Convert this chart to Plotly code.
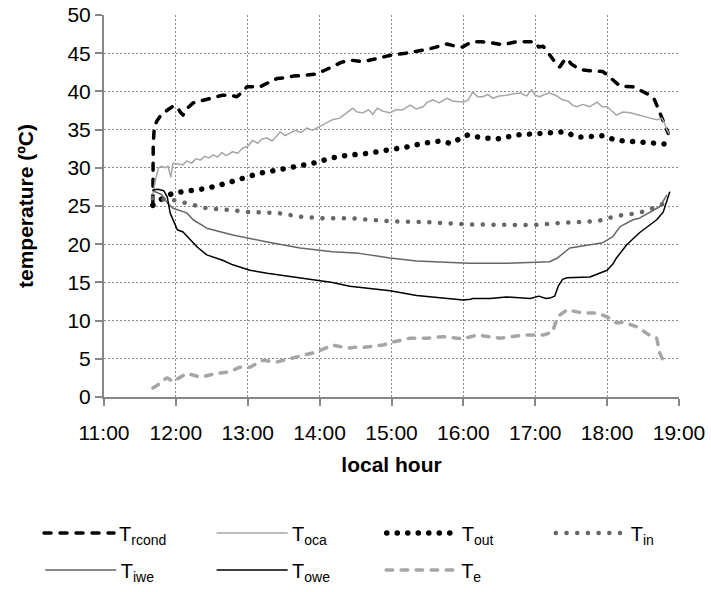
import plotly.graph_objects as go

# ---- data (time in decimal hours, temperature in ºC) ----
tick_vals = [11, 12, 13, 14, 15, 16, 17, 18, 19]
tick_text = ["11:00", "12:00", "13:00", "14:00", "15:00", "16:00", "17:00", "18:00", "19:00"]

t_rcond = [11.68, 11.685, 11.70, 11.74, 11.80, 11.88, 11.95, 12.02, 12.06, 12.10, 12.16, 12.24, 12.32, 12.43,
           12.55, 12.65, 12.75, 12.85, 12.93, 12.99, 13.08, 13.17, 13.30, 13.41, 13.52, 13.63, 13.80, 13.96,
           14.08, 14.18, 14.30, 14.42, 14.60, 14.75, 14.88, 15.02, 15.20, 15.35, 15.50, 15.58, 15.77, 15.90,
           15.99, 16.06, 16.13, 16.25, 16.37, 16.55, 16.65, 16.74, 16.88, 16.99, 17.05, 17.11, 17.20, 17.30,
           17.34, 17.40, 17.44, 17.50, 17.58, 17.66, 17.76, 17.94, 18.02, 18.08, 18.18, 18.36, 18.50, 18.60,
           18.66, 18.72, 18.76, 18.83, 18.85]
v_rcond = [25.5, 33.0, 35.4, 36.2, 37.0, 37.6, 38.0, 38.0, 37.3, 36.9, 37.8, 38.5, 38.7, 38.9,
           39.3, 39.5, 39.5, 39.3, 40.0, 40.6, 40.6, 40.6, 41.2, 41.7, 41.8, 42.0, 42.1, 42.3,
           42.8, 43.2, 43.8, 44.1, 43.9, 44.2, 44.5, 44.8, 45.0, 45.2, 45.5, 45.7, 46.2, 45.9,
           45.8, 46.2, 46.5, 46.5, 46.4, 46.1, 46.3, 46.5, 46.5, 46.5, 45.8, 45.9, 44.8, 43.5,
           43.2, 44.0, 44.3, 43.6, 43.1, 42.8, 42.7, 42.6, 42.0, 41.5, 40.7, 40.6, 40.0, 39.5,
           38.9, 37.5, 36.5, 35.0, 34.5]

t_oca = [11.68, 11.72, 11.76, 11.80, 11.85, 11.89, 11.91, 11.93, 11.96, 12.02, 12.10, 12.15, 12.22, 12.28,
         12.34, 12.40, 12.46, 12.52, 12.58, 12.64, 12.70, 12.79, 12.86, 12.93, 13.00, 13.07, 13.14, 13.20,
         13.27, 13.34, 13.40, 13.45, 13.52, 13.59, 13.66, 13.74, 13.82, 13.90, 14.00, 14.08, 14.18, 14.28,
         14.38, 14.46, 14.52, 14.60, 14.68, 14.74, 14.80, 14.88, 14.98, 15.06, 15.16, 15.26, 15.34, 15.44,
         15.50, 15.58, 15.66, 15.77, 15.86, 15.94, 15.99, 16.06, 16.13, 16.20, 16.27, 16.34, 16.41, 16.50,
         16.60, 16.70, 16.79, 16.88, 16.95, 17.00, 17.06, 17.13, 17.20, 17.28, 17.38, 17.46, 17.52, 17.58,
         17.66, 17.76, 17.86, 17.93, 18.00, 18.07, 18.13, 18.22, 18.32, 18.40, 18.50, 18.60, 18.69, 18.76,
         18.80, 18.83, 18.86]
v_oca = [26.5, 28.6, 30.0, 30.2, 30.0, 30.2, 29.5, 28.8, 30.6, 30.5, 30.4, 30.9, 30.6, 31.2,
         31.0, 31.5, 31.3, 31.7, 31.4, 32.0, 31.6, 32.1, 31.9, 32.6, 32.8, 33.6, 33.2, 33.8,
         33.9, 33.5, 34.2, 34.7, 34.2, 34.5, 34.9, 34.6, 35.2, 34.9, 35.4, 35.8, 36.3, 36.5,
         37.2, 37.8, 37.3, 37.2, 37.6, 37.0, 37.8, 37.4, 37.2, 37.6, 37.6, 38.2, 37.7, 38.0,
         38.6, 38.9, 38.5, 39.1, 38.7, 38.6, 38.6, 38.8, 39.9, 39.3, 39.3, 39.6, 39.1, 39.4,
         39.5, 39.7, 39.8, 39.4, 40.2, 39.5, 39.3, 39.6, 39.8, 39.5, 38.9, 38.7, 38.2, 38.0,
         38.3, 38.0, 38.6, 38.0, 38.0, 37.4, 36.9, 37.3, 37.2, 37.0, 36.7, 36.5, 36.3, 36.5,
         35.8, 35.0, 34.5]

t_out = [11.68, 11.78, 11.96, 12.20, 12.43, 12.71, 12.93, 13.17, 13.41, 13.63, 13.91, 14.18, 14.42, 14.60,
         14.88, 15.20, 15.44, 15.68, 15.82, 16.06, 16.27, 16.50, 16.74, 17.02, 17.11, 17.40, 17.60, 17.94,
         18.13, 18.40, 18.69, 18.83]
v_out = [25.1, 25.8, 26.7, 27.1, 27.3, 28.0, 28.6, 29.3, 29.7, 30.1, 30.6, 31.3, 31.7, 31.8,
         32.2, 32.7, 33.2, 33.5, 33.2, 34.3, 33.9, 33.8, 34.3, 34.5, 34.5, 34.7, 34.0, 34.2,
         33.6, 33.4, 33.2, 33.1]

t_in = [11.68, 11.96, 12.13, 12.43, 12.71, 13.03, 13.41, 13.73, 14.00, 14.42, 14.98, 15.44, 16.05, 16.51,
        16.97, 17.38, 17.86, 18.13, 18.45, 18.69, 18.85]
v_in = [26.0, 25.8, 25.4, 24.7, 24.5, 24.2, 24.1, 23.6, 23.4, 23.4, 23.0, 22.9, 22.6, 22.5,
        22.5, 22.8, 23.0, 23.7, 24.1, 24.9, 25.6]

t_iwe = [11.68, 11.80, 11.88, 11.96, 12.15, 12.24, 12.43, 12.79, 13.27, 13.73, 14.18, 14.55, 14.98, 15.35,
         16.08, 16.60, 17.20, 17.31, 17.48, 17.70, 17.94, 18.08, 18.18, 18.36, 18.45, 18.73, 18.83]
v_iwe = [27.0, 26.5, 25.4, 24.7, 24.1, 23.2, 22.1, 21.2, 20.3, 19.5, 19.0, 18.8, 18.2, 17.8,
         17.5, 17.5, 17.7, 18.2, 19.5, 19.8, 20.2, 21.0, 22.3, 23.2, 23.4, 24.9, 26.4]

t_owe = [11.68, 11.75, 11.83, 11.88, 11.92, 11.96, 12.02, 12.10, 12.18, 12.30, 12.43, 12.65, 12.79, 13.03,
         13.27, 13.73, 14.18, 14.42, 14.98, 15.35, 15.75, 16.00, 16.10, 16.13, 16.37, 16.60, 16.93, 17.05,
         17.15, 17.22, 17.27, 17.32, 17.38, 17.44, 17.76, 17.88, 18.00, 18.08, 18.13, 18.27, 18.45, 18.69,
         18.78, 18.87]
v_owe = [27.1, 27.2, 27.0, 26.2, 24.1, 23.2, 21.9, 21.6, 20.8, 19.6, 18.6, 17.9, 17.3, 16.6,
         16.2, 15.6, 15.0, 14.5, 13.9, 13.3, 12.9, 12.7, 12.8, 12.9, 12.9, 13.1, 12.9, 13.2,
         12.9, 13.0, 13.2, 14.5, 15.4, 15.6, 15.7, 16.2, 16.6, 17.4, 18.2, 19.9, 21.5, 23.2,
         24.2, 26.8]

t_e = [11.68, 11.74, 11.82, 11.88, 11.96, 12.15, 12.34, 12.57, 12.75, 12.89, 13.03, 13.21, 13.41, 13.63,
       13.77, 13.96, 14.18, 14.38, 14.50, 14.60, 14.88, 15.02, 15.26, 15.49, 15.72, 15.99, 16.19, 16.51,
       16.83, 17.11, 17.24, 17.31, 17.44, 17.66, 17.86, 18.00, 18.13, 18.22, 18.41, 18.59, 18.69, 18.73,
       18.78, 18.83]
v_e = [1.2, 1.5, 2.2, 2.5, 2.0, 3.1, 2.6, 3.1, 3.3, 3.9, 3.9, 4.8, 4.6, 5.1,
       5.5, 5.9, 6.8, 6.4, 6.5, 6.5, 6.8, 7.2, 7.7, 7.7, 7.9, 7.6, 8.1, 7.7,
       8.1, 8.1, 8.5, 10.5, 11.4, 11.0, 11.0, 10.5, 9.7, 9.8, 9.2, 8.1, 7.7, 5.8,
       4.8, 4.5]

FONT = "Liberation Sans, Arial, sans-serif"

fig = go.Figure()

def add(t, v, name, color, width, dash, legend):
    fig.add_trace(go.Scatter(x=t, y=v, mode="lines", name=name, legend=legend, showlegend=True,
                             line=dict(color=color, width=width, dash=dash)))

add(t_rcond, v_rcond, "T<sub>rcond</sub>", "#000000", 3.5, "7px,9px", "legend")
add(t_oca, v_oca, "T<sub>oca</sub>", "#a6a6a6", 1.5, "solid", "legend2")
add(t_out, v_out, "T<sub>out</sub>", "#000000", 5.5, "0.1px,10.4px", "legend3")
add(t_in, v_in, "T<sub>in</sub>", "#666666", 4.5, "0.1px,10.6px", "legend4")
add(t_iwe, v_iwe, "T<sub>iwe</sub>", "#666666", 1.5, "solid", "legend5")
add(t_owe, v_owe, "T<sub>owe</sub>", "#000000", 1.5, "solid", "legend6")
add(t_e, v_e, "T<sub>e</sub>", "#a6a6a6", 3.5, "6.5px,8.5px", "legend7")

leg_common = dict(orientation="h", xanchor="left", yanchor="middle", itemwidth=70,
                  font=dict(family=FONT, size=20, color="#000000"),
                  bgcolor="rgba(0,0,0,0)")

row1, row2 = -0.356, -0.453
fig.update_layout(
    width=711, height=592,
    showlegend=True,
    margin=dict(l=104, r=32, t=15, b=195, autoexpand=False),
    paper_bgcolor="white", plot_bgcolor="white",
    font=dict(family=FONT, size=21, color="#000000"),
    legend=dict(x=-0.113, y=row1, **leg_common),
    legend2=dict(x=0.188, y=row1, **leg_common),
    legend3=dict(x=0.483, y=row1, **leg_common),
    legend4=dict(x=0.777, y=row1, **leg_common),
    legend5=dict(x=-0.110, y=row2, **leg_common),
    legend6=dict(x=0.188, y=row2, **leg_common),
    legend7=dict(x=0.482, y=row2, **leg_common),
    xaxis=dict(range=[11, 19], tickmode="array", tickvals=tick_vals, ticktext=tick_text,
               showgrid=True, gridcolor="#8c8c8c", griddash="2px,2px", gridwidth=1,
               showline=True, linecolor="#868686", linewidth=2,
               ticks="outside", ticklen=7, tickcolor="#868686", tickwidth=2,
               ticklabelstandoff=9, zeroline=False,
               tickfont=dict(family=FONT, size=21),
               title=dict(text="<b>local hour</b>", font=dict(family=FONT, size=21), standoff=14)),
    yaxis=dict(range=[0, 50], dtick=5, tick0=0,
               showgrid=True, gridcolor="#8c8c8c", griddash="2px,2px", gridwidth=1,
               showline=True, linecolor="#868686", linewidth=2,
               ticks="outside", ticklen=7, tickcolor="#868686", tickwidth=2,
               zeroline=False, tickfont=dict(family=FONT, size=21),
               title=dict(text="<b>temperature (ºC)</b>", font=dict(family=FONT, size=21), standoff=28)),
)

round_caps = ("var s=document.createElement('style');"
              "s.textContent='.js-line{stroke-linecap:round;stroke-linejoin:round}';"
              "document.head.appendChild(s);")
fig.write_html("out.html", post_script=round_caps)
